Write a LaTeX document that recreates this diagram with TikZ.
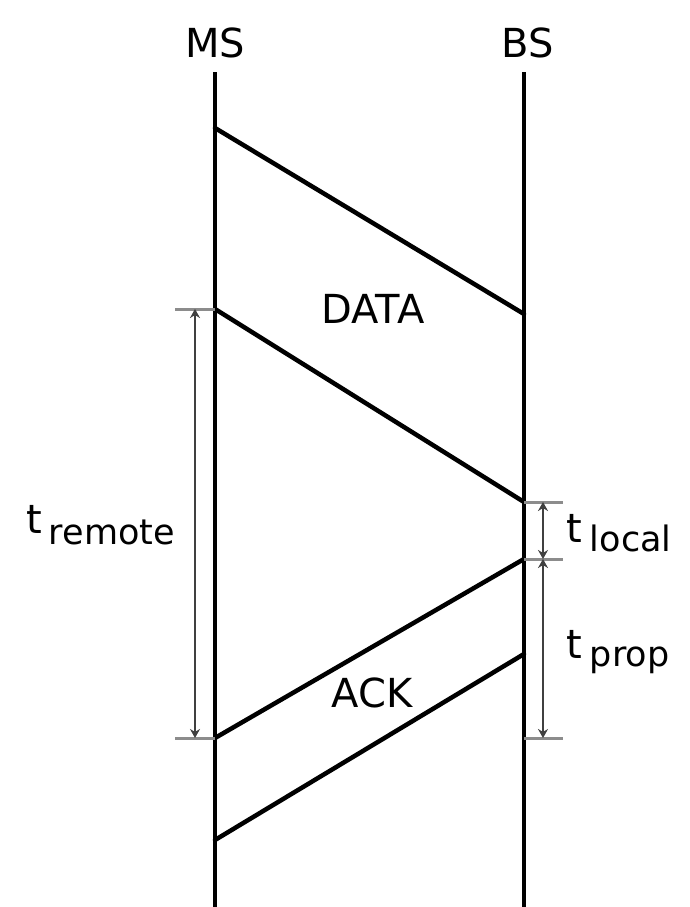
\documentclass[tikz,border=0pt]{standalone}
\usepackage{fontspec}
\setmainfont{DejaVu Sans}
\usetikzlibrary{arrows.meta}
\begin{document}
\begin{tikzpicture}[x=1pt,y=-1pt,
  life/.style={line width=4.5pt,black},
  msg/.style={line width=4.5pt,black,line cap=round},
  tick/.style={line width=3pt,gray!90},
  span/.style={line width=2.2pt,black!75,{Stealth[length=9pt,width=10pt]}-{Stealth[length=9pt,width=10pt]}},
  lbl/.style={font=\fontsize{40}{40}\selectfont,inner sep=0pt},
  tlbl/.style={font=\fontsize{40}{40}\selectfont,inner sep=0pt,anchor=base west}]
\useasboundingbox (0,0) rectangle (689,907);
% lifelines
\coordinate (mstop) at (215,72);
\coordinate (msbot) at (215,907);
\coordinate (bstop) at (524,72);
\coordinate (bsbot) at (524,907);
\node[lbl,anchor=base] (ms) at (215,58) {MS};
\node[lbl,anchor=base] (bs) at (528,58) {BS};
\draw[life] (mstop) -- (msbot);
\draw[life] (bstop) -- (bsbot);
% message points
\coordinate (d1s) at (215,128);
\coordinate (d1e) at (524,314);
\coordinate (d2s) at (215,309);
\coordinate (d2e) at (524,502);
\coordinate (a1s) at (524,559);
\coordinate (a1e) at (215,738);
\coordinate (a2s) at (524,654);
\coordinate (a2e) at (215,840);
\draw[msg] (d1s) -- (d1e);
\draw[msg] (d2s) -- (d2e);
\draw[msg] (a1s) -- (a1e);
\draw[msg] (a2s) -- (a2e);
\node[lbl,anchor=base] (data) at (373,323) {DATA};
\node[lbl,anchor=base] (ack) at (372,707) {ACK};
% t_remote
\coordinate (rt1) at (175,309);
\coordinate (rt2) at (175,738);
\coordinate (ra1) at (195,309);
\coordinate (ra2) at (195,738);
\draw[tick] (rt1) -- (d2s);
\draw[tick] (rt2) -- (a1e);
\draw[span] (ra1) -- (ra2);
\node[tlbl] (trem) at (26,533) {t\hspace{7pt}\raisebox{-11pt}{\fontsize{35}{35}\selectfont remote}};
% t_local and t_prop
\coordinate (lt1) at (563,502);
\coordinate (lt2) at (563,559);
\coordinate (lt3) at (563,738);
\coordinate (bsk) at (524,738);
\coordinate (la1) at (543,502);
\coordinate (la2) at (543,559);
\coordinate (la3) at (543,738);
\draw[tick] (d2e) -- (lt1);
\draw[tick] (a1s) -- (lt2);
\draw[tick] (bsk) -- (lt3);
\draw[span] (la1) -- (la2);
\draw[span] (la2) -- (la3);
\node[tlbl] (tloc) at (566,542) {t\hspace{8pt}\raisebox{-9pt}{\fontsize{35}{35}\selectfont local}};
\node[tlbl] (tprop) at (566,658) {t\hspace{8pt}\raisebox{-8pt}{\fontsize{35}{35}\selectfont prop}};
\end{tikzpicture}
\end{document}
